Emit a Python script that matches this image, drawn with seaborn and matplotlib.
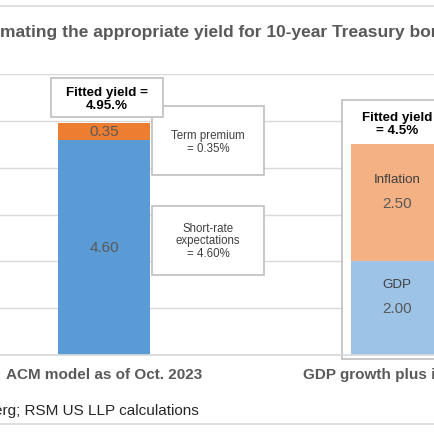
import matplotlib
matplotlib.use("Agg")
import matplotlib.pyplot as plt
from matplotlib.lines import Line2D
from matplotlib.patches import Rectangle
import seaborn as sns

# data
categories = ["ACM model as of Oct. 2023", "GDP growth plus inflation"]
base_values = [4.60, 2.00]
top_values = [0.35, 2.50]
base_names = ["", "GDP"]
top_names = ["", "Inflation"]
base_colors = ["#5B9BD5", "#9DC3E6"]
top_colors = ["#ED7D31", "#F4B183"]
fitted_labels = ["Fitted yield =\n4.95.%", "Fitted yield\n= 4.5%"]
title = "Estimating the appropriate yield for 10-year Treasury bonds"
source = "Source: Bloomberg; RSM US LLP calculations"

GRAY = "#595959"
EDGE = "#BFBFBF"
GRID = "#D9D9D9"

sns.set_theme(style="white")
plt.rcParams["font.family"] = ["Liberation Sans", "DejaVu Sans"]

W = H = 435
fig = plt.figure(figsize=(W / 100, H / 100), dpi=100)
# plot area is wider than the visible crop
ax = fig.add_axes([-42.5 / W, 79 / H, 586 / W, 281 / H])

totals = [b + t for b, t in zip(base_values, top_values)]
sns.barplot(x=categories, y=totals, hue=categories, palette=top_colors,
            width=0.314, legend=False, ax=ax, zorder=2, saturation=1,
            linewidth=0, edgecolor="none")
sns.barplot(x=categories, y=base_values, hue=categories, palette=base_colors,
            width=0.314, legend=False, ax=ax, zorder=2, saturation=1,
            linewidth=0, edgecolor="none")

ax.set_xlim(-0.5, 1.5)
ax.set_ylim(0, 6)
ax.set_yticks(range(7))
ax.set_yticklabels([])
ax.grid(axis="y", color=GRID, lw=1)
ax.set_axisbelow(True)
for s in ["left", "right", "top"]:
    ax.spines[s].set_visible(False)
ax.spines["bottom"].set_color(GRID)
ax.tick_params(length=0)
ax.tick_params(axis="x", pad=9)
ax.set_xlabel("")
ax.set_ylabel("")
for lab in ax.get_xticklabels():
    lab.set_fontweight("bold")
    lab.set_fontsize(11)
    lab.set_color(GRAY)

# segment labels
for i, (b, t) in enumerate(zip(base_values, top_values)):
    for lo, v, name in [(0, b, base_names[i]), (b, t, top_names[i])]:
        mid = lo + v / 2
        ax.text(i, mid, f"{v:.2f}", ha="center", va="center",
                fontsize=11, color=GRAY, zorder=4)
        if name:
            ax.text(i, mid + 0.51, name, ha="center", va="center",
                    fontsize=9.6, color="#404040", zorder=4)

# box around the GDP bar
ax.add_patch(Rectangle((0.8124, -0.085), 0.3753, 5.53, facecolor="white",
                       edgecolor=EDGE, lw=1.2, zorder=1.5, clip_on=False))
ax.text(1.0, 4.943, fitted_labels[1], ha="center", va="center", fontsize=9.6,
        fontweight="bold", color="black", linespacing=1.05, zorder=4)

# callout boxes for the ACM bar
boxes = [
    ((0.1638, 3.844), 0.3822, 1.473, "Term premium\n= 0.35%", (0.355, 4.559)),
    ((0.1638, 1.708), 0.3822, 1.480, "Short-rate\nexpectations\n= 4.60%", (0.355, 2.445)),
]
for (x0, y0), w, h, txt, (tx, ty) in boxes:
    ax.add_patch(Rectangle((x0, y0), w, h, facecolor="white", edgecolor=EDGE,
                           lw=1.2, zorder=3, clip_on=False))
    ax.text(tx, ty, txt, ha="center", va="center", fontsize=8.3,
            color="#404040", linespacing=1.05, zorder=4)

ax.add_patch(Rectangle((-0.1809, 5.082), 0.3823, 0.833, facecolor="white",
                       edgecolor=EDGE, lw=1.2, zorder=5, clip_on=False))
ax.text(0.0102, 5.477, fitted_labels[0], ha="center", va="center", fontsize=9.6,
        fontweight="bold", color="black", linespacing=1.05, zorder=6)

# title, source and chart frame lines
fig.text(-31.8 / W, 1 - 32 / H, title, ha="left", va="center", fontsize=12.5,
         fontweight="bold", color=GRAY)
fig.text(199 / W, 1 - 411.5 / H, source, ha="right", va="center", fontsize=11,
         color="#262626")
for yy in [7, 425]:
    fig.add_artist(Line2D([0, 1], [1 - yy / H] * 2, color=GRID, lw=1.2))

fig.savefig("out.png", dpi=100)
